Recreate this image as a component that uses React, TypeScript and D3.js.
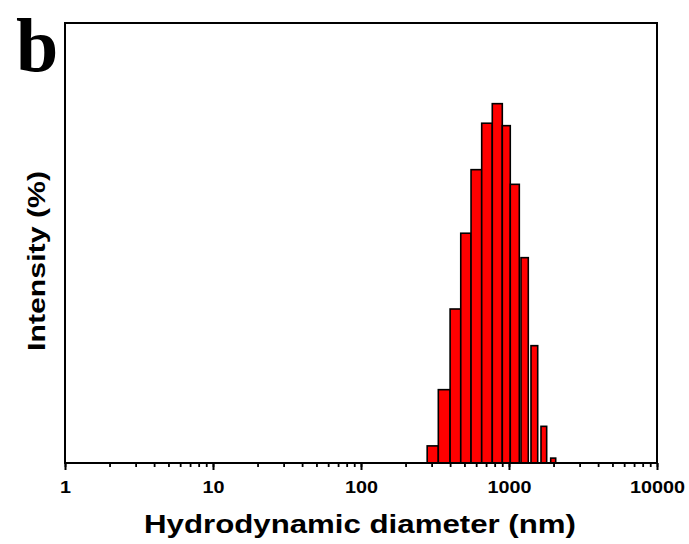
import React, { useEffect, useRef } from "react";
import * as d3 from "d3";

// DLS intensity distribution, bins in nm
const binLow = [280, 333, 400, 472, 554, 654, 771, 901, 1020, 1205, 1408, 1645, 1913];
const binHigh = [333, 400, 472, 554, 654, 771, 901, 1020, 1174, 1350, 1563, 1797, 2068];
const intensity = [0.7, 3.0, 6.3, 9.4, 12.0, 13.9, 14.7, 13.8, 11.4, 8.4, 4.8, 1.5, 0.2];
const majorTicks = [1, 10, 100, 1000, 10000];

export default function App() {
  const ref = useRef<SVGSVGElement>(null);

  useEffect(() => {
    const svg = d3.select(ref.current);
    svg.selectAll("*").remove();
    const margin = { top: 23, right: 32, bottom: 81, left: 65 },
      width = 689 - margin.left - margin.right,
      height = 544 - margin.top - margin.bottom;

    const g = svg.append("g").attr("transform", `translate(${margin.left},${margin.top})`);

    const x = d3.scaleLog().domain([1, 10000]).range([0, width]);
    const y = d3.scaleLinear().domain([0, 18]).range([height, 0]);

    const data = intensity.map((v, i) => ({ lo: binLow[i], hi: binHigh[i], v }));

    g.append("g")
      .selectAll("rect")
      .data(data)
      .join("rect")
      .attr("x", (d) => x(d.lo))
      .attr("width", (d) => x(d.hi) - x(d.lo))
      .attr("y", (d) => y(d.v))
      .attr("height", (d) => y(0) - y(d.v))
      .attr("fill", "#ff0000")
      .attr("stroke", "#000")
      .attr("stroke-width", 1.6);

    // minor ticks
    const minor = g
      .append("g")
      .attr("transform", `translate(0,${height})`)
      .call(d3.axisBottom(x).tickValues(x.ticks()).tickSize(4).tickFormat(() => ""));
    minor.select(".domain").remove();
    minor.selectAll("line").attr("stroke-width", 1.8);

    // major ticks + labels
    const major = g
      .append("g")
      .attr("transform", `translate(0,${height})`)
      .call(d3.axisBottom(x).tickValues(majorTicks).tickSize(7).tickPadding(11).tickFormat(d3.format("d")));
    major.select(".domain").remove();
    major.selectAll("line").attr("stroke-width", 2);
    major
      .selectAll("text")
      .attr("font-family", "'Liberation Sans', Arial, sans-serif")
      .attr("font-weight", "bold")
      .attr("font-size", 17)
      .attr("fill", "#000")
      .attr("lengthAdjust", "spacingAndGlyphs")
      .attr("textLength", (d: any) => String(d).length * 11);

    // frame
    g.append("rect")
      .attr("width", width)
      .attr("height", height)
      .attr("fill", "none")
      .attr("stroke", "#000")
      .attr("stroke-width", 2);

    g.append("text")
      .attr("x", width / 2 - 1)
      .attr("y", height + 70)
      .attr("text-anchor", "middle")
      .attr("font-family", "'Liberation Sans', Arial, sans-serif")
      .attr("font-weight", "bold")
      .attr("font-size", 25)
      .attr("lengthAdjust", "spacingAndGlyphs")
      .attr("textLength", 432)
      .text("Hydrodynamic diameter (nm)");

    g.append("text")
      .attr("transform", `translate(-20,${238}) rotate(-90)`)
      .attr("text-anchor", "middle")
      .attr("font-family", "'Liberation Sans', Arial, sans-serif")
      .attr("font-weight", "bold")
      .attr("font-size", 24)
      .attr("lengthAdjust", "spacingAndGlyphs")
      .attr("textLength", 180)
      .text("Intensity (%)");

    svg
      .append("text")
      .attr("x", 16)
      .attr("y", 71)
      .attr("font-family", "'Liberation Serif', 'Times New Roman', serif")
      .attr("font-weight", "bold")
      .attr("font-size", 76)
      .text("b");
  }, []);

  return (
    <svg
      ref={ref}
      width={689}
      height={544}
      style={{ position: "absolute", left: 0, top: 0, background: "#fff" }}
    />
  );
}
